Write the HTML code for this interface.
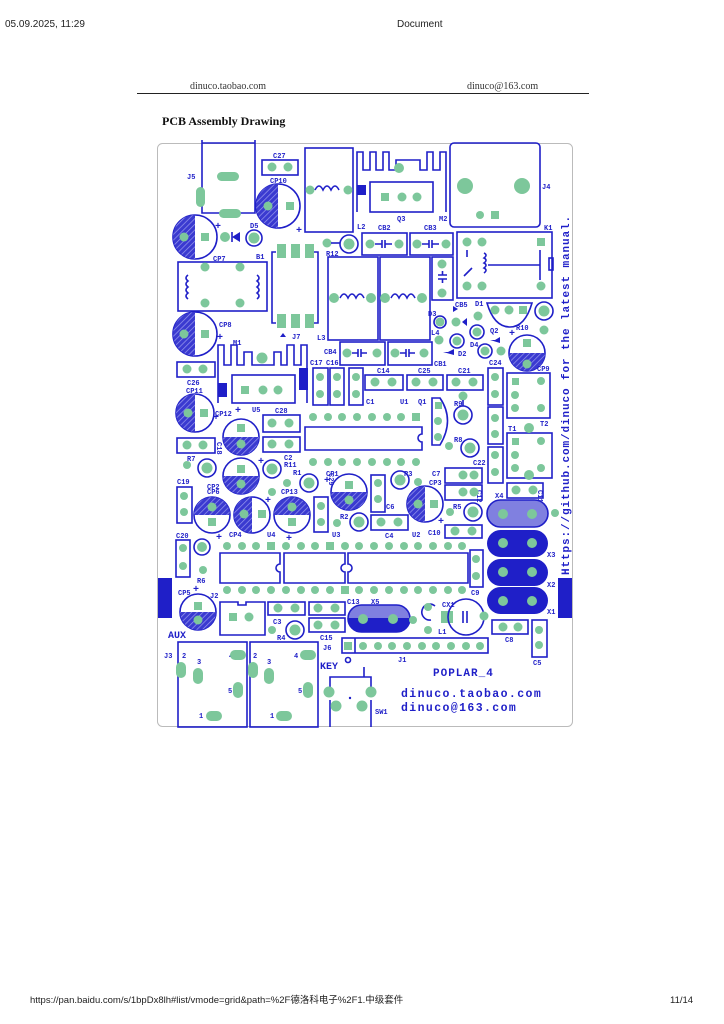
<!DOCTYPE html>
<html><head><meta charset="utf-8"><style>
html,body{margin:0;padding:0;background:#fff;width:724px;height:1024px;overflow:hidden}
svg{position:absolute;left:0;top:0}
</style></head><body>
<svg width="724" height="1024" viewBox="0 0 724 1024" xmlns="http://www.w3.org/2000/svg">
<defs>
<pattern id="h" width="4" height="4" patternUnits="userSpaceOnUse" patternTransform="rotate(45)">
<rect width="4" height="4" fill="#3a3ad0"/><line x1="0" y1="0" x2="0" y2="4" stroke="#9a9aee" stroke-width="1.4"/></pattern>
</defs>
<style>
.b{fill:none;stroke:#1f1fc8;stroke-width:1.6}
.p{fill:#7dc79b}
.t{font-family:"Liberation Mono",monospace;font-weight:bold;fill:#1f1fc8;font-size:7px}
.f{fill:#1f1fc8}
.pl{font-size:10px}
</style>
<!-- page header -->
<text x="5" y="27" font-family="Liberation Sans,sans-serif" font-size="10" fill="#222">05.09.2025, 11:29</text>
<text x="397" y="27" font-family="Liberation Sans,sans-serif" font-size="10" fill="#222">Document</text>
<text x="190" y="89" font-family="Liberation Serif,serif" font-size="10" fill="#333">dinuco.taobao.com</text>
<text x="467" y="89" font-family="Liberation Serif,serif" font-size="10" fill="#333">dinuco@163.com</text>
<line x1="137" y1="93.5" x2="589" y2="93.5" stroke="#222" stroke-width="1"/>
<text x="162" y="125" font-family="Liberation Serif,serif" font-size="12" font-weight="bold" fill="#111">PCB Assembly Drawing</text>
<text x="30" y="1003" font-family="Liberation Sans,'Noto Sans CJK SC',sans-serif" font-size="9.5" fill="#222">https://pan.baidu.com/s/1bpDx8lh#list/vmode=grid&amp;path=%2F德洛科电子%2F1.中级套件</text>
<text x="670" y="1003" font-family="Liberation Sans,sans-serif" font-size="9.5" fill="#222">11/14</text>

<!-- board -->
<rect x="157.5" y="143.5" width="415" height="583" rx="5" fill="#fff" stroke="#bbb" stroke-width="1"/>
<rect x="158" y="578" width="14" height="40" class="f"/>
<rect x="558" y="578" width="14" height="40" class="f"/>

<!-- J5 -->
<path d="M202 140 V213 H255 V140 M202 143 H255" class="b"/>
<rect x="217" y="172" width="22" height="9" rx="4.5" class="p"/>
<rect x="196" y="187" width="9" height="20" rx="4.5" class="p"/>
<rect x="219" y="209" width="22" height="9" rx="4.5" class="p"/>
<text x="187" y="179" class="t">J5</text>
<!-- C27 -->
<rect x="262" y="160" width="36" height="15" class="b"/><circle cx="272" cy="167" r="4.5" class="p"/><circle cx="288" cy="167" r="4.5" class="p"/>
<text x="273" y="158" class="t">C27</text>
<!-- CP10 -->
<circle cx="278" cy="206" r="22" class="b"/><path d="M278 184 A22 22 0 0 0 278 228Z" fill="url(#h)"/><circle cx="268" cy="206" r="4.5" class="p"/><rect x="286" y="202" width="8" height="8" class="p"/>
<text x="270" y="183" class="t">CP10</text><text x="296" y="233" class="t pl">+</text>
<!-- L2 -->
<rect x="305" y="148" width="48" height="84" class="b"/><circle cx="310" cy="190" r="4.5" class="p"/><circle cx="348" cy="190" r="4.5" class="p"/>
<path d="M315 190 q4 -8 8 0 q4 -8 8 0 q4 -8 8 0" class="b"/><text x="357" y="229" class="t">L2</text>
<!-- M2 / Q3 -->
<path d="M357 212 V152 H363 V170 H370 V152 H376 V170 H383 V152 H389 V170 H396 V160 H420 V170 H427 V152 H433 V170 H440 V152 H446 V212" class="b"/>
<rect x="357" y="185" width="9" height="10" class="f"/>
<rect x="370" y="182" width="63" height="30" class="b"/>
<rect x="381" y="193" width="8" height="8" class="p"/><circle cx="402" cy="197" r="4.5" class="p"/><circle cx="417" cy="197" r="4.5" class="p"/><circle cx="399" cy="168" r="5" class="p"/>
<text x="397" y="221" class="t">Q3</text><text x="439" y="221" class="t">M2</text>
<!-- J4 -->
<rect x="450" y="143" width="90" height="84" rx="4" class="b"/><circle cx="465" cy="186" r="8" class="p"/><circle cx="522" cy="186" r="8" class="p"/>
<circle cx="480" cy="215" r="4" class="p"/><rect x="491" y="211" width="8" height="8" class="p"/><text x="542" y="189" class="t">J4</text>
<!-- CP7 -->
<circle cx="195" cy="237" r="22" class="b"/><path d="M195 215 A22 22 0 0 0 195 259Z" fill="url(#h)"/><circle cx="184" cy="237" r="4.5" class="p"/><rect x="201" y="233" width="8" height="8" class="p"/>
<text x="215" y="229" class="t pl">+</text><text x="213" y="261" class="t">CP7</text>
<!-- D5 -->
<circle cx="225" cy="237" r="5" class="p"/><path d="M232 237 L240 232 V242Z" class="f"/><line x1="232" y1="232" x2="232" y2="242" class="b"/>
<circle cx="254" cy="238" r="8" class="b"/><circle cx="254" cy="238" r="5.5" class="p"/><text x="250" y="228" class="t">D5</text>
<!-- B1 -->
<rect x="178" y="262" width="89" height="49" class="b"/><circle cx="205" cy="267" r="4.5" class="p"/><circle cx="240" cy="267" r="4.5" class="p"/><circle cx="205" cy="303" r="4.5" class="p"/><circle cx="240" cy="303" r="4.5" class="p"/>
<path d="M188 275 q-4 3 0 6 q-4 3 0 6 q-4 3 0 6 q-4 3 0 6 M257 275 q4 3 0 6 q4 3 0 6 q4 3 0 6 q4 3 0 6" class="b"/><text x="256" y="259" class="t">B1</text>
<!-- J7 -->
<path d="M276 252 H272 V323 H276 M314 252 H318 V323 H314" class="b"/>
<rect x="277" y="244" width="9" height="14" class="p"/><rect x="291" y="244" width="9" height="14" class="p"/><rect x="305" y="244" width="9" height="14" class="p"/>
<rect x="277" y="314" width="9" height="14" class="p"/><rect x="291" y="314" width="9" height="14" class="p"/><rect x="305" y="314" width="9" height="14" class="p"/>
<path d="M280 337 l3 -4 l3 4z" class="f"/><text x="292" y="339" class="t">J7</text>
<!-- R12 -->
<circle cx="327" cy="243" r="4.5" class="p"/><line x1="331" y1="243" x2="340" y2="243" class="b"/><circle cx="349" cy="244" r="9" class="b"/><circle cx="349" cy="244" r="5.5" class="p"/><text x="326" y="256" class="t">R12</text>
<!-- CB2 CB3 -->
<rect x="362" y="233" width="45" height="22" class="b"/><circle cx="370" cy="244" r="4.5" class="p"/><circle cx="399" cy="244" r="4.5" class="p"/><path d="M375 244h7m0-4v8m3-8v8m0-4h7" class="b"/>
<rect x="410" y="233" width="43" height="22" class="b"/><circle cx="417" cy="244" r="4.5" class="p"/><circle cx="446" cy="244" r="4.5" class="p"/><path d="M422 244h7m0-4v8m3-8v8m0-4h7" class="b"/>
<text x="378" y="230" class="t">CB2</text><text x="424" y="230" class="t">CB3</text>
<!-- K1 -->
<rect x="457" y="232" width="95" height="66" class="b"/><circle cx="467" cy="242" r="4.5" class="p"/><circle cx="482" cy="242" r="4.5" class="p"/><rect x="537" y="238" width="8" height="8" class="p"/>
<circle cx="467" cy="286" r="4.5" class="p"/><circle cx="482" cy="286" r="4.5" class="p"/><circle cx="541" cy="286" r="4.5" class="p"/>
<path d="M484 253 q4 2 0 5 q4 2 0 5 q4 2 0 5 q4 2 0 5 M488 265 H540 M540 250 V280 M467 250v7 M464 276 l8 -8" class="b"/><rect x="549" y="258" width="4" height="12" class="b"/><text x="544" y="230" class="t">K1</text>
<!-- L3 L4 -->
<rect x="328" y="257" width="50" height="83" class="b"/><circle cx="334" cy="298" r="5" class="p"/><circle cx="371" cy="298" r="5" class="p"/><path d="M340 298 q4 -8 8 0 q4 -8 8 0 q4 -8 8 0" class="b"/>
<rect x="380" y="257" width="50" height="83" class="b"/><circle cx="385" cy="298" r="5" class="p"/><circle cx="422" cy="298" r="5" class="p"/><path d="M391 298 q4 -8 8 0 q4 -8 8 0 q4 -8 8 0" class="b"/>
<text x="317" y="340" class="t">L3</text><text x="431" y="335" class="t">L4</text>
<!-- CB5 -->
<rect x="432" y="257" width="21" height="43" class="b"/><circle cx="442" cy="264" r="4.5" class="p"/><circle cx="442" cy="293" r="4.5" class="p"/><path d="M438 275h9m-9 4h9m-4.5-4v-4m0 8v4" class="b"/><text x="455" y="307" class="t">CB5</text>
<!-- D1 D3 D2 D4 -->
<text x="475" y="306" class="t">D1</text>
<path d="M447 309 h6 m0 -3 l5 3 l-5 3z" class="f"/><circle cx="440" cy="322" r="6" class="b"/><circle cx="440" cy="322" r="4.5" class="p"/><text x="428" y="316" class="t">D3</text>
<circle cx="456" cy="322" r="4.5" class="p"/><path d="M462 322 l5 -4 v8z" class="f"/><circle cx="478" cy="316" r="4.5" class="p"/>
<circle cx="477" cy="332" r="7" class="b"/><circle cx="477" cy="332" r="4.5" class="p"/><text x="490" y="333" class="t">Q2</text>
<circle cx="439" cy="340" r="4.5" class="p"/><path d="M443 352 h5 l6 -3 v6z" class="f"/><circle cx="457" cy="341" r="7" class="b"/><circle cx="457" cy="341" r="4.5" class="p"/><text x="458" y="356" class="t">D2</text>
<circle cx="485" cy="351" r="7" class="b"/><circle cx="485" cy="351" r="4.5" class="p"/><circle cx="501" cy="351" r="4.5" class="p"/><path d="M490 340 h5 l5 -3 v6z" class="f"/><text x="470" y="347" class="t">D4</text>
<!-- Q2 TO92 -->
<path d="M487 303 H532 Q525 327 510 327 Q494 327 487 303Z" class="b"/><circle cx="495" cy="310" r="4.5" class="p"/><circle cx="509" cy="310" r="4.5" class="p"/><rect x="519" y="306" width="8" height="8" class="p"/>
<circle cx="544" cy="311" r="9" class="b"/><circle cx="544" cy="311" r="5.5" class="p"/><circle cx="544" cy="330" r="4.5" class="p"/><text x="516" y="330" class="t">R10</text>
<!-- CP8 -->
<circle cx="195" cy="334" r="22" class="b"/><path d="M195 312 A22 22 0 0 0 195 356Z" fill="url(#h)"/><circle cx="184" cy="334" r="4.5" class="p"/><rect x="201" y="330" width="8" height="8" class="p"/>
<text x="219" y="327" class="t">CP8</text><text x="217" y="340" class="t pl">+</text>
<!-- CP9 round -->
<circle cx="527" cy="353" r="18" class="b"/><path d="M509 353 A18 18 0 0 0 545 353Z" fill="url(#h)"/><rect x="523" y="339" width="8" height="8" class="p"/><circle cx="527" cy="364" r="4.5" class="p"/><text x="509" y="336" class="t pl">+</text>
<!-- M1 / U5 -->
<path d="M218 403 V345 H224 V365 H231 V345 H237 V365 H244 V352 H252 V365 H274 V352 H281 V365 H287 V345 H294 V365 H301 V345 H307 V403" class="b"/>
<circle cx="262" cy="358" r="5.5" class="p"/>
<rect x="232" y="375" width="63" height="28" class="b"/><rect x="241" y="386" width="8" height="8" class="p"/><circle cx="263" cy="390" r="4.5" class="p"/><circle cx="278" cy="390" r="4.5" class="p"/>
<rect x="218" y="383" width="9" height="14" class="f"/><rect x="299" y="368" width="9" height="22" class="f"/>
<text x="233" y="345" class="t">M1</text>
<!-- C26 -->
<rect x="177" y="362" width="38" height="15" class="b"/><circle cx="187" cy="369" r="4.5" class="p"/><circle cx="203" cy="369" r="4.5" class="p"/><text x="187" y="385" class="t">C26</text>
<!-- C17 C16 C1 -->
<rect x="313" y="368" width="15" height="37" class="b"/><circle cx="320" cy="377" r="4" class="p"/><circle cx="320" cy="394" r="4" class="p"/>
<rect x="330" y="368" width="14" height="37" class="b"/><circle cx="337" cy="377" r="4" class="p"/><circle cx="337" cy="394" r="4" class="p"/>
<rect x="349" y="368" width="14" height="37" class="b"/><circle cx="356" cy="377" r="4" class="p"/><circle cx="356" cy="394" r="4" class="p"/>
<text x="310" y="365" class="t">C17</text><text x="326" y="365" class="t">C16</text><text x="366" y="404" class="t">C1</text>
<!-- CB4 CB1 -->
<rect x="340" y="342" width="45" height="23" class="b"/><circle cx="347" cy="353" r="4.5" class="p"/><circle cx="377" cy="353" r="4.5" class="p"/><path d="M352 353h6m0-4v8m3-8v8m0-4h6" class="b"/>
<rect x="388" y="342" width="44" height="23" class="b"/><circle cx="395" cy="353" r="4.5" class="p"/><circle cx="424" cy="353" r="4.5" class="p"/><path d="M400 353h6m0-4v8m3-8v8m0-4h6" class="b"/>
<text x="324" y="354" class="t">CB4</text><text x="434" y="366" class="t">CB1</text>
<!-- C14 C25 C21 -->
<rect x="365" y="375" width="38" height="15" class="b"/><circle cx="375" cy="382" r="4.5" class="p"/><circle cx="392" cy="382" r="4.5" class="p"/>
<rect x="407" y="375" width="36" height="15" class="b"/><circle cx="416" cy="382" r="4.5" class="p"/><circle cx="433" cy="382" r="4.5" class="p"/>
<rect x="447" y="375" width="36" height="15" class="b"/><circle cx="456" cy="382" r="4.5" class="p"/><circle cx="473" cy="382" r="4.5" class="p"/>
<text x="377" y="373" class="t">C14</text><text x="418" y="373" class="t">C25</text><text x="458" y="373" class="t">C21</text>
<!-- C24 C23 C22 -->
<rect x="488" y="368" width="15" height="37" class="b"/><circle cx="495" cy="377" r="4" class="p"/><circle cx="495" cy="394" r="4" class="p"/><text x="489" y="365" class="t">C24</text>
<rect x="488" y="407" width="15" height="37" class="b"/><circle cx="495" cy="418" r="4" class="p"/><circle cx="495" cy="434" r="4" class="p"/>
<rect x="488" y="447" width="15" height="36" class="b"/><circle cx="495" cy="455" r="4" class="p"/><circle cx="495" cy="472" r="4" class="p"/><text x="473" y="465" class="t">C22</text>
<!-- CP9 box, T1 -->
<rect x="507" y="373" width="43" height="45" class="b"/><rect x="512" y="378" width="7" height="7" class="p"/><circle cx="541" cy="381" r="4" class="p"/><circle cx="515" cy="395" r="4" class="p"/><circle cx="515" cy="408" r="4" class="p"/><circle cx="541" cy="408" r="4" class="p"/>
<text x="537" y="371" class="t">CP9</text><text x="540" y="426" class="t">T2</text>
<rect x="507" y="433" width="45" height="45" class="b"/><circle cx="529" cy="428" r="5" class="p"/><rect x="512" y="438" width="7" height="7" class="p"/><circle cx="541" cy="441" r="4" class="p"/><circle cx="515" cy="455" r="4" class="p"/><circle cx="541" cy="468" r="4" class="p"/><circle cx="529" cy="475" r="5" class="p"/><circle cx="515" cy="468" r="4" class="p"/>
<text x="508" y="431" class="t">T1</text>
<rect x="507" y="483" width="36" height="15" class="b"/><circle cx="516" cy="490" r="4.5" class="p"/><circle cx="533" cy="490" r="4.5" class="p"/>
<text x="546" y="498" class="t" transform="rotate(90 546 490)">C11</text>
<text x="484" y="497" class="t" transform="rotate(90 484 490)">C12</text>
<!-- CP11 -->
<circle cx="195" cy="413" r="19" class="b"/><path d="M195 394 A19 19 0 0 0 195 432Z" fill="url(#h)"/><circle cx="188" cy="413" r="4.5" class="p"/><rect x="200" y="409" width="8" height="8" class="p"/>
<text x="186" y="393" class="t">CP11</text><text x="213" y="420" class="t pl">+</text>
<!-- U1 chip -->
<g class="p"><circle cx="313" cy="417" r="4"/><circle cx="328" cy="417" r="4"/><circle cx="342" cy="417" r="4"/><circle cx="357" cy="417" r="4"/><circle cx="372" cy="417" r="4"/><circle cx="387" cy="417" r="4"/><circle cx="401" cy="417" r="4"/><rect x="412" y="413" width="8" height="8"/>
<circle cx="313" cy="462" r="4"/><circle cx="328" cy="462" r="4"/><circle cx="342" cy="462" r="4"/><circle cx="357" cy="462" r="4"/><circle cx="372" cy="462" r="4"/><circle cx="387" cy="462" r="4"/><circle cx="401" cy="462" r="4"/><circle cx="416" cy="462" r="4"/></g>
<path d="M305 427 H422 V434 A4 4 0 0 0 422 442 V450 H305Z" class="b"/>
<text x="400" y="404" class="t">U1</text><text x="418" y="404" class="t">Q1</text>
<path d="M432 398 H440 Q455 420 440 445 H432Z" class="b"/><rect x="435" y="402" width="7" height="7" class="p"/><circle cx="438" cy="421" r="4" class="p"/><circle cx="438" cy="437" r="4" class="p"/>
<circle cx="463" cy="396" r="4.5" class="p"/><line x1="463" y1="400" x2="463" y2="406" class="b"/><circle cx="463" cy="415" r="9" class="b"/><circle cx="463" cy="415" r="5.5" class="p"/><text x="454" y="406" class="t">R9</text>
<circle cx="449" cy="446" r="4" class="p"/><circle cx="470" cy="448" r="9" class="b"/><circle cx="470" cy="448" r="5.5" class="p"/><text x="454" y="442" class="t">R8</text>
<!-- CP12, C18, C28, C2 -->
<circle cx="241" cy="437" r="18" class="b"/><path d="M223 437 A18 18 0 0 0 259 437Z" fill="url(#h)"/><rect x="237" y="424" width="8" height="8" class="p"/><circle cx="241" cy="444" r="4.5" class="p"/>
<text x="215" y="416" class="t">CP12</text><text x="252" y="412" class="t">U5</text><text x="235" y="413" class="t pl">+</text>
<rect x="177" y="438" width="38" height="15" class="b"/><circle cx="187" cy="445" r="4.5" class="p"/><circle cx="203" cy="445" r="4.5" class="p"/><text x="217" y="442" class="t" transform="rotate(90 217 442)">C18</text>
<rect x="263" y="415" width="37" height="17" class="b"/><circle cx="272" cy="423" r="4.5" class="p"/><circle cx="289" cy="423" r="4.5" class="p"/><text x="275" y="413" class="t">C28</text>
<rect x="263" y="437" width="37" height="15" class="b"/><circle cx="272" cy="444" r="4.5" class="p"/><circle cx="289" cy="444" r="4.5" class="p"/><text x="284" y="460" class="t">C2</text>
<!-- R7 CP2 R11 R1 -->
<circle cx="187" cy="465" r="4" class="p"/><circle cx="207" cy="468" r="9" class="b"/><circle cx="207" cy="468" r="5.5" class="p"/><text x="187" y="461" class="t">R7</text>
<circle cx="241" cy="476" r="18" class="b"/><path d="M223 476 A18 18 0 0 0 259 476Z" fill="url(#h)"/><rect x="237" y="465" width="8" height="8" class="p"/><circle cx="241" cy="484" r="4.5" class="p"/>
<text x="207" y="489" class="t">CP2</text><text x="258" y="464" class="t pl">+</text>
<circle cx="272" cy="469" r="9" class="b"/><circle cx="272" cy="469" r="5.5" class="p"/><circle cx="272" cy="492" r="4" class="p"/><text x="284" y="467" class="t">R11</text>
<circle cx="287" cy="483" r="4" class="p"/><circle cx="309" cy="483" r="9" class="b"/><circle cx="309" cy="483" r="5.5" class="p"/><text x="293" y="475" class="t">R1</text>
<!-- C19 CP6 CP4 CP13 -->
<rect x="177" y="487" width="15" height="36" class="b"/><circle cx="184" cy="496" r="4" class="p"/><circle cx="184" cy="512" r="4" class="p"/><text x="177" y="484" class="t">C19</text>
<circle cx="212" cy="515" r="18" class="b"/><path d="M194 515 A18 18 0 0 1 230 515Z" fill="url(#h)"/><circle cx="212" cy="507" r="4.5" class="p"/><rect x="208" y="518" width="8" height="8" class="p"/>
<text x="207" y="494" class="t">CP6</text><text x="216" y="540" class="t pl">+</text>
<circle cx="252" cy="515" r="18" class="b"/><path d="M252 497 A18 18 0 0 0 252 533Z" fill="url(#h)"/><circle cx="244" cy="514" r="4.5" class="p"/><rect x="258" y="510" width="8" height="8" class="p"/>
<text x="229" y="537" class="t">CP4</text><text x="265" y="503" class="t pl">+</text>
<circle cx="292" cy="515" r="18" class="b"/><path d="M274 515 A18 18 0 0 1 310 515Z" fill="url(#h)"/><circle cx="292" cy="507" r="4.5" class="p"/><rect x="288" y="518" width="8" height="8" class="p"/>
<text x="281" y="494" class="t">CP13</text><text x="286" y="541" class="t pl">+</text><text x="267" y="537" class="t">U4</text>
<!-- C29 CP1 C6 R2 C4 R3 CP3 -->
<rect x="314" y="497" width="14" height="35" class="b"/><circle cx="321" cy="506" r="4" class="p"/><circle cx="321" cy="522" r="4" class="p"/><text x="329" y="473" class="t" transform="rotate(90 329 473)">C29</text>
<circle cx="349" cy="492" r="18" class="b"/><path d="M331 492 A18 18 0 0 0 367 492Z" fill="url(#h)"/><rect x="345" y="481" width="8" height="8" class="p"/><circle cx="349" cy="500" r="4.5" class="p"/>
<text x="326" y="476" class="t">CP1</text><text x="324" y="483" class="t pl">+</text><text x="332" y="537" class="t">U3</text>
<rect x="371" y="475" width="14" height="37" class="b"/><circle cx="378" cy="483" r="4" class="p"/><circle cx="378" cy="499" r="4" class="p"/><text x="386" y="509" class="t">C6</text>
<circle cx="337" cy="523" r="4" class="p"/><circle cx="359" cy="522" r="9" class="b"/><circle cx="359" cy="522" r="5.5" class="p"/><text x="340" y="519" class="t">R2</text>
<rect x="371" y="515" width="37" height="15" class="b"/><circle cx="381" cy="522" r="4.5" class="p"/><circle cx="398" cy="522" r="4.5" class="p"/><text x="385" y="538" class="t">C4</text>
<circle cx="400" cy="480" r="9" class="b"/><circle cx="400" cy="480" r="5.5" class="p"/><circle cx="418" cy="482" r="4" class="p"/><text x="404" y="476" class="t">R3</text>
<circle cx="425" cy="504" r="18" class="b"/><path d="M425 486 A18 18 0 0 0 425 522Z" fill="url(#h)"/><circle cx="418" cy="504" r="4.5" class="p"/><rect x="430" y="500" width="8" height="8" class="p"/>
<text x="412" y="537" class="t">U2</text><text x="438" y="524" class="t pl">+</text><text x="429" y="485" class="t">CP3</text><text x="432" y="476" class="t">C7</text>
<rect x="445" y="468" width="37" height="15" class="b"/><circle cx="463" cy="475" r="4.5" class="p"/><circle cx="474" cy="475" r="4.5" class="p"/>
<rect x="445" y="485" width="37" height="15" class="b"/><circle cx="463" cy="492" r="4.5" class="p"/><circle cx="474" cy="492" r="4.5" class="p"/>
<circle cx="450" cy="512" r="4" class="p"/><circle cx="473" cy="512" r="9" class="b"/><circle cx="473" cy="512" r="5.5" class="p"/><text x="453" y="509" class="t">R5</text>
<rect x="445" y="525" width="37" height="13" class="b"/><circle cx="455" cy="531" r="4.5" class="p"/><circle cx="472" cy="531" r="4.5" class="p"/><text x="428" y="535" class="t">C10</text>
<!-- crystals -->
<rect x="487" y="500" width="61" height="27" rx="13.5" fill="#8080e0" stroke="#1f1fc8" stroke-width="1.6"/><circle cx="503" cy="514" r="5" class="p"/><circle cx="532" cy="514" r="5" class="p"/><text x="495" y="498" class="t">X4</text>
<rect x="487" y="530" width="61" height="27" rx="13.5" class="f"/><circle cx="503" cy="543" r="5" class="p"/><circle cx="532" cy="543" r="5" class="p"/><text x="547" y="557" class="t">X3</text>
<rect x="487" y="559" width="61" height="27" rx="13.5" class="f"/><circle cx="503" cy="572" r="5" class="p"/><circle cx="532" cy="572" r="5" class="p"/><text x="547" y="587" class="t">X2</text>
<rect x="487" y="587" width="61" height="27" rx="13.5" class="f"/><circle cx="503" cy="601" r="5" class="p"/><circle cx="532" cy="601" r="5" class="p"/><text x="547" y="614" class="t">X1</text>
<circle cx="555" cy="513" r="4" class="p"/>
<!-- C20 R6 -->
<rect x="176" y="540" width="14" height="37" class="b"/><circle cx="183" cy="548" r="4" class="p"/><circle cx="183" cy="566" r="4" class="p"/><text x="176" y="538" class="t">C20</text>
<circle cx="202" cy="547" r="8" class="b"/><circle cx="202" cy="547" r="5" class="p"/><circle cx="203" cy="570" r="4" class="p"/><text x="197" y="583" class="t">R6</text>
<!-- big chips row -->
<g class="p">
<circle cx="227" cy="546" r="4"/><circle cx="242" cy="546" r="4"/><circle cx="256" cy="546" r="4"/><rect x="267" y="542" width="8" height="8"/><circle cx="286" cy="546" r="4"/><circle cx="301" cy="546" r="4"/><circle cx="315" cy="546" r="4"/><rect x="326" y="542" width="8" height="8"/><circle cx="345" cy="546" r="4"/><circle cx="359" cy="546" r="4"/><circle cx="374" cy="546" r="4"/><circle cx="389" cy="546" r="4"/><circle cx="404" cy="546" r="4"/><circle cx="418" cy="546" r="4"/><circle cx="433" cy="546" r="4"/><circle cx="448" cy="546" r="4"/><circle cx="462" cy="546" r="4"/>
<circle cx="227" cy="590" r="4"/><circle cx="242" cy="590" r="4"/><circle cx="256" cy="590" r="4"/><circle cx="271" cy="590" r="4"/><circle cx="286" cy="590" r="4"/><circle cx="301" cy="590" r="4"/><circle cx="315" cy="590" r="4"/><circle cx="330" cy="590" r="4"/><rect x="341" y="586" width="8" height="8"/><circle cx="359" cy="590" r="4"/><circle cx="374" cy="590" r="4"/><circle cx="389" cy="590" r="4"/><circle cx="404" cy="590" r="4"/><circle cx="418" cy="590" r="4"/><circle cx="433" cy="590" r="4"/><circle cx="448" cy="590" r="4"/><circle cx="462" cy="590" r="4"/></g>
<path d="M220 553 H280 V564 A4 4 0 0 0 280 572 V583 H220Z" class="b"/>
<path d="M284 553 H345 V564 A4 4 0 0 0 345 572 V583 H284Z" class="b"/>
<path d="M348 553 H468 V583 H348 V572 A4 4 0 0 0 348 564Z" class="b"/>
<rect x="470" y="550" width="13" height="37" class="b"/><circle cx="476" cy="559" r="4" class="p"/><circle cx="476" cy="576" r="4" class="p"/><text x="471" y="595" class="t">C9</text>
<!-- CP5 J2 C3 C13 C15 R4 -->
<circle cx="198" cy="612" r="18" class="b"/><path d="M180 612 A18 18 0 0 0 216 612Z" fill="url(#h)"/><rect x="194" y="602" width="8" height="8" class="p"/><circle cx="198" cy="620" r="4.5" class="p"/>
<text x="178" y="595" class="t">CP5</text><text x="193" y="592" class="t pl">+</text><text x="210" y="598" class="t">J2</text>
<path d="M220 602 H238 V605 H246 V602 H265 V635 H220Z" class="b"/><rect x="229" y="613" width="8" height="8" class="p"/><circle cx="249" cy="617" r="4.5" class="p"/>
<rect x="268" y="602" width="37" height="13" class="b"/><circle cx="278" cy="608" r="4.5" class="p"/><circle cx="295" cy="608" r="4.5" class="p"/><text x="273" y="624" class="t">C3</text>
<rect x="309" y="602" width="36" height="13" class="b"/><circle cx="318" cy="608" r="4.5" class="p"/><circle cx="335" cy="608" r="4.5" class="p"/>
<rect x="309" y="618" width="36" height="14" class="b"/><circle cx="318" cy="625" r="4.5" class="p"/><circle cx="335" cy="625" r="4.5" class="p"/>
<text x="347" y="604" class="t">C13</text><text x="320" y="640" class="t">C15</text><text x="323" y="650" class="t">J6</text>
<circle cx="272" cy="630" r="4" class="p"/><circle cx="295" cy="630" r="9" class="b"/><circle cx="295" cy="630" r="5.5" class="p"/><text x="277" y="640" class="t">R4</text>
<!-- X5 -->
<rect x="348" y="605" width="62" height="27" rx="13.5" fill="#8080e0" stroke="#1f1fc8" stroke-width="1.6"/><path d="M348 618 H410 A13.5 13.5 0 0 1 396.5 632 H361.5 A13.5 13.5 0 0 1 348 618Z" class="f"/><circle cx="363" cy="619" r="5" class="p"/><circle cx="393" cy="619" r="5" class="p"/><text x="371" y="604" class="t">X5</text>
<circle cx="413" cy="620" r="4" class="p"/>
<!-- L1 CX1 -->
<path d="M431 620 A8 8 0 1 1 435 606" class="b"/><circle cx="428" cy="607" r="4" class="p"/><circle cx="428" cy="630" r="4" class="p"/><text x="438" y="634" class="t">L1</text>
<rect x="441" y="611" width="12" height="12" class="p"/><circle cx="466" cy="617" r="18" class="b"/><path d="M463 611v12m4-12v12" class="b"/><circle cx="484" cy="616" r="4.5" class="p"/><text x="442" y="607" class="t">CX1</text>
<rect x="492" y="620" width="36" height="14" class="b"/><circle cx="503" cy="627" r="4.5" class="p"/><circle cx="518" cy="627" r="4.5" class="p"/><text x="505" y="642" class="t">C8</text>
<rect x="532" y="620" width="15" height="37" class="b"/><circle cx="539" cy="630" r="4" class="p"/><circle cx="539" cy="645" r="4" class="p"/><text x="533" y="665" class="t">C5</text>
<!-- J1 -->
<rect x="342" y="638" width="146" height="15" class="b"/><line x1="355" y1="638" x2="355" y2="653" class="b"/>
<g class="p"><rect x="344" y="642" width="8" height="8"/><circle cx="363" cy="646" r="4"/><circle cx="378" cy="646" r="4"/><circle cx="392" cy="646" r="4"/><circle cx="407" cy="646" r="4"/><circle cx="422" cy="646" r="4"/><circle cx="436" cy="646" r="4"/><circle cx="451" cy="646" r="4"/><circle cx="466" cy="646" r="4"/><circle cx="480" cy="646" r="4"/></g>
<text x="398" y="662" class="t">J1</text>
<!-- AUX J3 J6 -->
<text x="168" y="638" class="t" style="font-size:10px">AUX</text><text x="164" y="658" class="t">J3</text>
<rect x="178" y="642" width="69" height="85" class="b"/><rect x="250" y="642" width="68" height="85" class="b"/>
<text x="182" y="658" class="t">2</text><text x="197" y="664" class="t">3</text><text x="229" y="658" class="t">4</text><text x="228" y="693" class="t">5</text><text x="199" y="718" class="t">1</text>
<rect x="176" y="662" width="10" height="16" rx="5" class="p"/><rect x="193" y="668" width="10" height="16" rx="5" class="p"/><rect x="230" y="650" width="16" height="10" rx="5" class="p"/><rect x="233" y="682" width="10" height="16" rx="5" class="p"/><rect x="206" y="711" width="16" height="10" rx="5" class="p"/>
<text x="253" y="658" class="t">2</text><text x="267" y="664" class="t">3</text><text x="294" y="658" class="t">4</text><text x="298" y="693" class="t">5</text><text x="270" y="718" class="t">1</text>
<rect x="248" y="662" width="10" height="16" rx="5" class="p"/><rect x="264" y="668" width="10" height="16" rx="5" class="p"/><rect x="300" y="650" width="16" height="10" rx="5" class="p"/><rect x="303" y="682" width="10" height="16" rx="5" class="p"/><rect x="276" y="711" width="16" height="10" rx="5" class="p"/>
<!-- KEY SW1 -->
<text x="320" y="669" class="t" style="font-size:10px">KEY</text><circle cx="348" cy="660" r="2.5" class="b" stroke-width="1"/>
<path d="M330 690 V677 H371 V690 M364 677 V667 M330 700 V727 M371 700 V727" class="b"/>
<circle cx="329" cy="692" r="5.5" class="p"/><circle cx="371" cy="692" r="5.5" class="p"/><circle cx="336" cy="706" r="5.5" class="p"/><circle cx="362" cy="706" r="5.5" class="p"/><circle cx="350" cy="698" r="1.2" class="f"/>
<text x="375" y="714" class="t">SW1</text>
<!-- texts -->
<text x="433" y="676" class="t" style="font-size:11px;letter-spacing:1px">POPLAR_4</text>
<text x="401" y="697" class="t" style="font-size:11.5px;letter-spacing:1.4px">dinuco.taobao.com</text>
<text x="401" y="711" class="t" style="font-size:11.5px;letter-spacing:1.4px">dinuco@163.com</text>
<text x="569" y="575" class="t" style="font-size:11px;letter-spacing:0.9px" transform="rotate(-90 569 575)">Https://github.com/dinuco for the latest manual.</text>
</svg>
</body></html>
